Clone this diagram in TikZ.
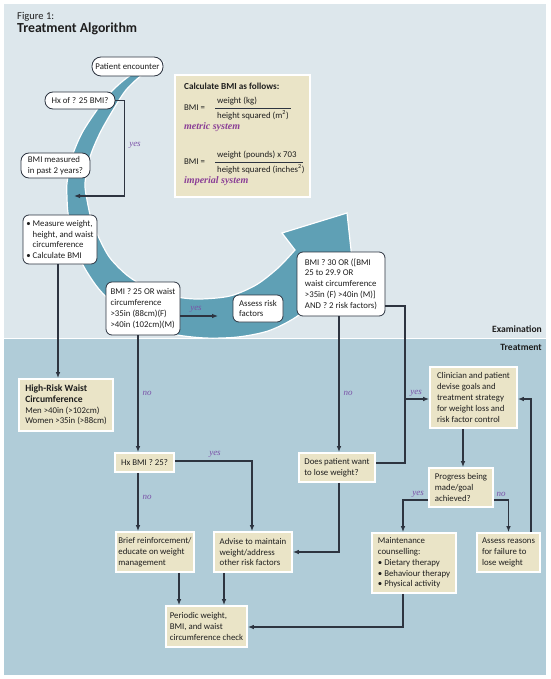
\documentclass[tikz,border=0pt]{standalone}
\usepackage{fontspec}
\setmainfont{Carlito}
\newfontfamily\labfont{Liberation Serif}
\usetikzlibrary{arrows.meta}
\pgfdeclarelayer{bg}
\pgfsetlayers{bg,main}
\definecolor{topbg}{RGB}{221,231,236}
\definecolor{botbg}{RGB}{176,204,216}
\definecolor{bandcol}{RGB}{95,160,181}
\definecolor{beige}{RGB}{234,228,199}
\definecolor{linecol}{RGB}{45,52,64}
\definecolor{txtcol}{RGB}{30,30,30}
\definecolor{labcol}{RGB}{122,82,168}
\definecolor{syscol}{RGB}{138,62,150}
\begin{document}
\begin{tikzpicture}[x=1pt,y=-1pt,
  every node/.style={font=\fontsize{8.8}{10.8}\selectfont, text=txtcol},
  rbox/.style={draw=linecol, line width=0.8pt, fill=white, rounded corners=6pt, align=left, inner sep=0pt},
  bbox/.style={draw=white, line width=1.8pt, fill=beige, align=left, inner sep=0pt},
  conn/.style={draw=linecol, line width=1.1pt},
  arr/.style={conn, -{Latex[length=6pt,width=4.6pt]}},
  lab/.style={font=\labfont\itshape\fontsize{9}{9}\selectfont, text=labcol, inner sep=0pt},
  sys/.style={font=\labfont\itshape\bfseries\fontsize{10}{10}\selectfont, text=syscol, inner sep=0pt, anchor=west},
  ctext/.style={inner sep=0pt, anchor=west},
  band/.style={font=\bfseries\fontsize{9.6}{10}\selectfont, inner sep=0pt, anchor=east}
]
\useasboundingbox (0,0) rectangle (550,679);

% title
\node[ctext, font=\fontsize{10.5}{12}\selectfont] (fig) at (17,17) {Figure 1:};
\node[ctext, font=\bfseries\fontsize{13.8}{15}\selectfont] (title) at (17,29) {Treatment Algorithm};
\node[band] (exam) at (542,329) {Examination};
\node[band] (treat) at (542,347) {Treatment};

% nodes
\node[rbox, minimum width=71pt, minimum height=19pt, rounded corners=9pt] (pe) at (127.5,66.5) {Patient encounter};
\node[rbox, minimum width=70pt, minimum height=17pt, rounded corners=8pt] (hx) at (80,100.5) {Hx of ? 25 BMI?};
\node[rbox, minimum width=69pt, minimum height=25pt, rounded corners=8pt] (bmim) at (55.5,165.5) {BMI measured\\in past 2 years?};
\node[rbox, minimum width=74pt, minimum height=49pt] (meas) at (60,239.5) {\textbullet\ Measure weight,\\\phantom{\textbullet\ }height, and waist\\\phantom{\textbullet\ }circumference\\\textbullet\ Calculate BMI};
\node[rbox, minimum width=74pt, minimum height=53pt] (b25) at (143,308.5) {BMI ? 25 OR waist\\circumference\\>35in (88cm)(F)\\>40in (102cm)(M)};
\node[rbox, minimum width=50pt, minimum height=27pt] (assess) at (258,308.5) {Assess risk\\factors};
\node[rbox, minimum width=88pt, minimum height=64pt] (b30) at (341,284) {BMI ? 30 OR ([BMI\\25 to 29.9 OR\\waist circumference\\>35in (F) >40in (M)]\\AND ? 2 risk factors)};
\node[bbox, minimum width=94pt, minimum height=52pt] (hr) at (66,405) {{\bfseries\fontsize{9.6}{10.8}\selectfont High-Risk Waist}\\{\bfseries\fontsize{9.6}{10.8}\selectfont Circumference}\\Men >40in (>102cm)\\Women >35in (>88cm)};
\node[bbox, minimum width=59pt, minimum height=19pt] (hxb) at (144.5,462.5) {Hx BMI ? 25?};
\node[bbox, minimum width=76pt, minimum height=29pt] (does) at (337,467.5) {Does patient want\\to lose weight?};
\node[bbox, minimum width=87pt, minimum height=61pt] (clin) at (473.5,397.5) {Clinician and patient\\devise goals and\\treatment strategy\\for weight loss and\\risk factor control};
\node[bbox, minimum width=64pt, minimum height=39pt] (prog) at (461,487.5) {Progress being\\made/goal\\achieved?};
\node[bbox, minimum width=78pt, minimum height=40pt] (brief) at (155,552) {Brief reinforcement/\\educate on weight\\management};
\node[bbox, minimum width=78pt, minimum height=40pt] (advise) at (253,552) {Advise to maintain\\weight/address\\other risk factors};
\node[bbox, minimum width=84pt, minimum height=60pt] (maint) at (414,563) {Maintenance\\counselling:\\\textbullet\ Dietary therapy\\\textbullet\ Behaviour therapy\\\textbullet\ Physical activity};
\node[bbox, minimum width=63pt, minimum height=39pt] (areas) at (508.5,552.5) {Assess reasons\\for failure to\\lose weight};
\node[bbox, minimum width=81pt, minimum height=41pt] (period) at (206.5,626.5) {Periodic weight,\\BMI, and waist\\circumference check};

% BMI formula box
\node[bbox, minimum width=135pt, minimum height=122pt] (calc) at (242.5,136) {};
\node[ctext, font=\bfseries\fontsize{9.2}{10}\selectfont] (calct) at (184,86) {Calculate BMI as follows:};
\node[ctext] (bmi1) at (184,108) {BMI =};
\node[ctext] (num1) at (217,101.5) {weight (kg)};
\node[ctext] (den1) at (217,115) {height squared (m\textsuperscript{2})};
\node[sys] (metric) at (184,127.5) {metric system};
\node[ctext] (bmi2) at (184,162) {BMI =};
\node[ctext] (num2) at (217,155.5) {weight (pounds) x 703};
\node[ctext] (den2) at (217,169) {height squared (inches\textsuperscript{2})};
\node[sys] (imperial) at (184,181.5) {imperial system};
\coordinate (f1a) at (215,108); \coordinate (f1b) at (291,108);
\coordinate (f2a) at (215,162); \coordinate (f2b) at (303,162);
\draw[linecol, line width=0.5pt] (f1a) -- (f1b);
\draw[linecol, line width=0.5pt] (f2a) -- (f2b);

% helper coordinates
\coordinate (x58) at (58,0);
\coordinate (x138) at (138,0);
\coordinate (x179) at (179,0);
\coordinate (x224) at (224,0);
\coordinate (x252) at (252,0);
\coordinate (x339) at (339,0);
\coordinate (x403) at (403,0);
\coordinate (x463) at (463,0);
\coordinate (x531) at (531,0);
\coordinate (y306) at (0,306);
\coordinate (y399) at (0,399);
\coordinate (y461) at (0,461);
\coordinate (y463) at (0,463);
\coordinate (y500) at (0,500);
\coordinate (y552) at (0,552);
\coordinate (y627) at (0,627);
\coordinate (hxend) at (74,196);
\coordinate (yesend) at (218,316);
\coordinate (jr) at (405,399);

% connectors
\draw[arr] (hx.east) -- ++(9,0) |- (hxend);
\draw[arr] (meas.south -| x58) -- (hr.north -| x58);
\draw[arr] (b25.south -| x138) -- (hxb.north -| x138);
\draw[arr] (b25.east |- yesend) -- (yesend);
\draw[arr] (b30.south -| x339) -- (does.north -| x339);
\draw[conn] (b30.east |- y306) -- (jr |- y306) -- (jr |- y463) -- (does.east |- y463);
\draw[arr] (jr) -- (clin.west |- jr);
\draw[arr] (clin.south -| x463) -- (prog.north -| x463);
\draw[arr] (prog.west |- y500) -| (maint.north -| x403);
\draw[arr] (prog.east |- y500) -| (areas.north);
\draw[arr] (areas.north -| x531) |- (clin.east |- y399);
\draw[arr] (hxb.east |- y461) -| (advise.north -| x252);
\draw[arr] (hxb.south -| x138) -- (brief.north -| x138);
\draw[arr] (does.south -| x339) |- (advise.east |- y552);
\draw[arr] (brief.south -| x179) -- (period.north -| x179);
\draw[arr] (advise.south -| x224) -- (period.north -| x224);
\draw[arr] (maint.south -| x403) |- (period.east |- y627);

% labels
\node[lab] (l1) at (135,145) {yes};
\node[lab] (l2) at (196,309) {yes};
\node[lab] (l3) at (147,393) {no};
\node[lab] (l4) at (348,393) {no};
\node[lab] (l5) at (416,393) {yes};
\node[lab] (l6) at (215,454) {yes};
\node[lab] (l7) at (147,497) {no};
\node[lab] (l8) at (418,494) {yes};
\node[lab] (l9) at (501,494) {no};

\begin{pgfonlayer}{bg}
\fill[white] (0,0) rectangle (550,679);
\fill[topbg] (4,4) rectangle (546,338);
\fill[botbg] (4,338) rectangle (546,675);
\draw[white, line width=0.8pt] (4,338) -- (546,338);
\filldraw[fill=bandcol, draw=white, line width=1.2pt]
  plot[smooth] coordinates {(162,63) (142,75) (126,90) (113,110) (100,133) (90,157) (85,183) (87,200) (91,218) (99,238) (110,258) (128,276) (150,289) (177,297) (200,299) (230,296) (256,285) (278,268) (295,250)}
  -- (282,233) -- (347,213) -- (356,296)
  -- plot[smooth] coordinates {(333,284) (314,303) (293,319) (268,331) (238,337) (205,338) (172,334) (143,324) (118,308) (98,288) (83,265) (73,240) (68,213) (67,197) (67,183) (72,157) (82,133) (97,110) (112,91) (128,77) (146,66)}
  -- cycle;
\end{pgfonlayer}
\end{tikzpicture}
\end{document}
